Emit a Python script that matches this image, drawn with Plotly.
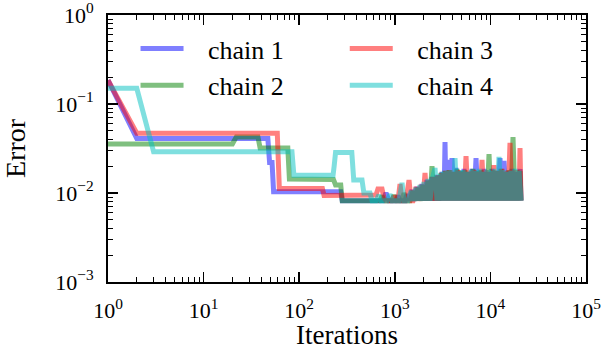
import plotly.graph_objects as go

# ---------------- data ----------------
chain1_iter = [1, 2, 47, 49, 52, 54, 272, 282,
               753, 809, 870, 1030, 1080, 1134, 1279, 1342, 1408, 1514, 1588, 1707, 1792,
               1926, 2021, 2172, 2280, 2450, 2571, 2764, 2900, 3118, 3271, 3351, 3433,
               3602, 3780, 3967, 4163, 4368, 4584, 4810, 5048, 5297, 5559, 5833, 6121,
               6423, 6740, 7073, 7422, 7788, 8172, 8576, 8999, 9443, 9904, 10393, 10905,
               11443, 12008, 12603, 13225, 13877, 14562, 15280, 16036, 16827, 17657,
               18528, 19442, 20403, 20901]
chain1_err = [0.185, 0.041, 0.041, 0.022, 0.022, 0.0103, 0.0103, 0.0082,
              0.0082, 0.0100, 0.0082, 0.0082, 0.0093, 0.0082, 0.0082, 0.0097, 0.0082, 0.0108, 0.0082, 0.0117, 0.0082,
              0.0126, 0.0082, 0.0140, 0.0082, 0.0151, 0.0082, 0.0159, 0.0082, 0.0172, 0.0082, 0.0374, 0.0082,
              0.0235, 0.0082, 0.0247, 0.0082, 0.0191, 0.0082, 0.0177, 0.0082, 0.0186, 0.0082, 0.0172, 0.0082,
              0.0186, 0.0082, 0.0247, 0.0082, 0.0177, 0.0082, 0.0186, 0.0082, 0.0172, 0.0082, 0.0186, 0.0082,
              0.0177, 0.0082, 0.0247, 0.0082, 0.0229, 0.0082, 0.0177, 0.0082, 0.0186, 0.0082,
              0.0172, 0.0082, 0.0186, 0.0082]

chain2_iter = [1, 20, 22, 37, 39, 76, 79, 228, 240, 272, 282,
               700, 735, 771, 935, 981, 1030, 1190, 1248, 1310, 1442, 1550, 1627, 1749, 1835,
               1973, 2070, 2225, 2335, 2450, 2571, 2698, 2831, 3044, 3194, 3351, 3516,
               3690, 3873, 4064, 4264, 4475, 4696, 4928, 5171, 5426, 5694, 5975, 6270,
               6580, 6904, 7245, 7603, 7978, 8372, 8785, 9218, 9673, 10145, 10646, 11171,
               11722, 12300, 12910, 13547, 14215, 14917, 15652, 16427, 17237, 18087,
               18980, 19916, 20403, 20901]
chain2_err = [0.0355, 0.0355, 0.0427, 0.0427, 0.032, 0.032, 0.0144, 0.0142, 0.0123, 0.0123, 0.0082,
              0.0082, 0.0093, 0.0082, 0.0082, 0.0095, 0.0082, 0.0082, 0.0100, 0.0082, 0.0082, 0.0105, 0.0082, 0.0114, 0.0082,
              0.0123, 0.0082, 0.0136, 0.0082, 0.0201, 0.0082, 0.0155, 0.0082, 0.0168, 0.0082, 0.0177, 0.0082,
              0.0181, 0.0082, 0.0172, 0.0082, 0.0186, 0.0082, 0.0177, 0.0082, 0.0181, 0.0082, 0.0172, 0.0082,
              0.0186, 0.0082, 0.0177, 0.0082, 0.0181, 0.0082, 0.0172, 0.0082, 0.0274, 0.0082, 0.0181, 0.0082,
              0.0177, 0.0082, 0.0186, 0.0082, 0.0172, 0.0082, 0.0181, 0.0082, 0.0426, 0.0082,
              0.0181, 0.0082, 0.0177, 0.0082]

chain3_iter = [1, 2, 59, 62, 175, 182,
               636, 666, 735, 771, 809, 935, 981, 1030, 1080, 1134, 1190, 1310, 1408, 1478,
               1550, 1667, 1749, 1880, 1973, 2070, 2172, 2280, 2392, 2510, 2634, 2831, 2971,
               3118, 3271, 3433, 3602, 3780, 3967, 4163, 4368, 4584, 4810, 5048, 5297,
               5559, 5833, 6121, 6423, 6740, 7073, 7422, 7788, 8172, 8576, 8999, 9443,
               9904, 10393, 10905, 11443, 12008, 12603, 13225, 13877, 14562, 15280,
               16036, 16827, 17657, 18528, 19442, 19916, 20403, 20901]
chain3_err = [0.185, 0.047, 0.047, 0.0112, 0.0112, 0.0094,
              0.0095, 0.0111, 0.0111, 0.0088, 0.0082, 0.0082, 0.0093, 0.0082, 0.0082, 0.0126, 0.0082, 0.0082, 0.0140, 0.0082,
              0.0082, 0.0117, 0.0082, 0.0123, 0.0082, 0.0168, 0.0082, 0.0140, 0.0082, 0.0151, 0.0082, 0.0159, 0.0082,
              0.0168, 0.0082, 0.0177, 0.0082, 0.0181, 0.0082, 0.0172, 0.0082, 0.0181, 0.0082, 0.0172, 0.0082,
              0.0260, 0.0082, 0.0177, 0.0082, 0.0181, 0.0082, 0.0172, 0.0082, 0.0235, 0.0082, 0.0181, 0.0082,
              0.0172, 0.0082, 0.0206, 0.0082, 0.0177, 0.0082, 0.0186, 0.0082, 0.0177, 0.0082,
              0.0365, 0.0082, 0.0181, 0.0082, 0.0172, 0.0082, 0.0320, 0.0082]

chain4_iter = [1, 2, 3, 84, 88, 226, 232, 240, 355, 372, 454, 475,
               550, 578, 636, 683, 717, 829, 891, 935, 1107, 1190, 1248, 1375, 1478, 1550,
               1667, 1749, 1835, 1926, 2021, 2121, 2225, 2335, 2510, 2634, 2764, 2900,
               3044, 3194, 3351, 3516, 3690, 3873, 4064, 4264, 4475, 4696, 4928, 5171,
               5426, 5694, 5975, 6270, 6580, 6904, 7245, 7603, 7978, 8372, 8785, 9218,
               9673, 10145, 10646, 11171, 11722, 12300, 12910, 13547, 14215, 14917,
               15652, 16427, 17237, 18087, 18980, 19916, 20901]
chain4_err = [0.15, 0.15, 0.029, 0.029, 0.0158, 0.0158, 0.0200, 0.0285, 0.0285, 0.014, 0.014, 0.0100,
              0.0100, 0.0082, 0.0082, 0.0095, 0.0082, 0.0082, 0.0097, 0.0082, 0.0082, 0.0130, 0.0082, 0.0082, 0.0105, 0.0082,
              0.0114, 0.0082, 0.0123, 0.0082, 0.0133, 0.0082, 0.0144, 0.0082, 0.0155, 0.0191, 0.0082, 0.0164,
              0.0082, 0.0172, 0.0082, 0.0177, 0.0082, 0.0181, 0.0082, 0.0247, 0.0082, 0.0177, 0.0082, 0.0181,
              0.0082, 0.0172, 0.0082, 0.0181, 0.0082, 0.0177, 0.0082, 0.0186, 0.0082, 0.0172, 0.0082, 0.0181,
              0.0082, 0.0177, 0.0082, 0.0186, 0.0082, 0.0254, 0.0082, 0.0181, 0.0082, 0.0172,
              0.0082, 0.0177, 0.0082, 0.0186, 0.0082, 0.0177, 0.0082]

series_names = ["chain 1", "chain 2", "chain 3", "chain 4"]
series_iters = [chain1_iter, chain2_iter, chain3_iter, chain4_iter]
series_errs = [chain1_err, chain2_err, chain3_err, chain4_err]

x_tickvals = [1, 10, 100, 1000, 10000, 100000]
x_ticktext = ["10<sup>0</sup>", "10<sup>1</sup>", "10<sup>2</sup>",
              "10<sup>3</sup>", "10<sup>4</sup>", "10<sup>5</sup>"]
y_tickvals = [0.001, 0.01, 0.1, 1]
y_ticktext = ["10<sup>\u22123</sup>", "10<sup>\u22122</sup>",
              "10<sup>\u22121</sup>", "10<sup>0</sup>"]
x_label = "Iterations"
y_label = "Error"

# ---------------- styling ----------------
colors = ["rgba(0,0,255,0.5)", "rgba(0,128,0,0.5)",
          "rgba(255,0,0,0.5)", "rgba(0,191,191,0.5)"]
legends = ["legend", "legend", "legend2", "legend2"]
FONT = "Liberation Serif"
PAD = "\u00a0\u00a0\u00a0"  # gap between legend line and label

fig = go.Figure()
for name, xs, ys, col, lg in zip(series_names, series_iters, series_errs, colors, legends):
    fig.add_trace(go.Scatter(
        x=xs, y=ys, mode="lines", name=PAD + name,
        line=dict(color=col, width=5),
        legend=lg, legendgroup=name,
    ))

x_minor = [k * 10 ** e for e in range(0, 5) for k in range(2, 10)]
y_minor = [k * 10.0 ** e for e in range(-3, 0) for k in range(2, 10)]

axis_common = dict(
    type="log", showgrid=False, zeroline=False, automargin=False,
    showline=True, linecolor="black", linewidth=2, mirror="ticks",
    ticks="inside", ticklen=10, tickwidth=1.5, tickcolor="black",
    tickfont=dict(family=FONT, size=22, color="black"),
    ticklabelstandoff=8, ticklabeloverflow="allow",
)

fig.update_xaxes(
    range=[0, 5], tickvals=x_tickvals, ticktext=x_ticktext,
    minor=dict(tickvals=x_minor, ticks="inside", ticklen=5, tickwidth=1,
               tickcolor="black", showgrid=False),
    **axis_common,
)
fig.update_yaxes(
    range=[-3, 0], tickvals=y_tickvals, ticktext=y_ticktext,
    minor=dict(tickvals=y_minor, ticks="inside", ticklen=5, tickwidth=1,
               tickcolor="black", showgrid=False),
    title=dict(text=y_label, font=dict(family=FONT, size=28, color="black"),
               standoff=25),
    **axis_common,
)

# x-axis title as an annotation so it can sit lower than the margin allows
fig.add_annotation(
    text=x_label, xref="paper", yref="paper", x=0.5, y=-0.2,
    xanchor="center", yanchor="middle", showarrow=False, borderpad=0,
    font=dict(family=FONT, size=27, color="black"),
)

legend_common = dict(
    font=dict(family=FONT, size=26, color="black"),
    bgcolor="rgba(0,0,0,0)", borderwidth=0,
    itemwidth=43, tracegroupgap=0,
    xanchor="left", yanchor="top", orientation="v",
)

fig.update_layout(
    width=603, height=347,
    margin=dict(l=108, r=17, t=15, b=65),
    paper_bgcolor="white", plot_bgcolor="white",
    showlegend=True,
    legend=dict(x=0.0576, y=0.962, **legend_common),
    legend2=dict(x=0.4953, y=0.962, **legend_common),
)

fig.write_html("out.html",
               config={"displayModeBar": False, "staticPlot": True},
               post_script="document.body.style.margin='0';document.body.style.overflow='hidden';")
